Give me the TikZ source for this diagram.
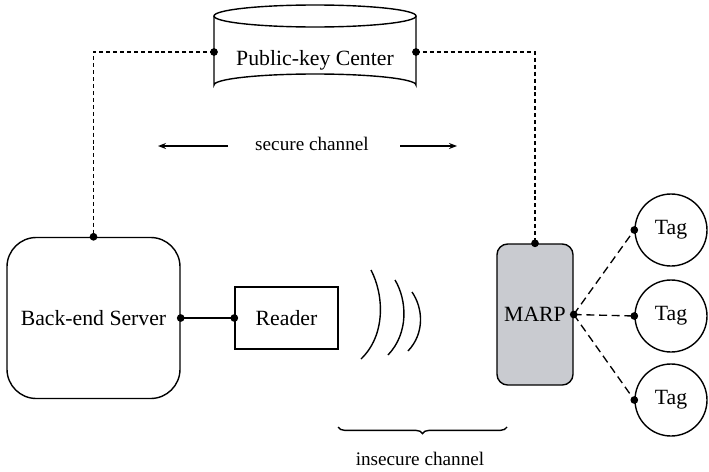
\documentclass[tikz,border=0pt]{standalone}
\usepackage{fontspec}
\setmainfont{Liberation Serif}
\usetikzlibrary{decorations.pathreplacing,arrows.meta}
\definecolor{marpfill}{RGB}{201,203,208}
\tikzset{
  lbl/.style={font=\fontsize{16.3}{19}\selectfont},
  chl/.style={font=\fontsize{14.4}{17}\selectfont},
  boxline/.style={draw=black, line width=1.05pt},
  dot/.style={circle, fill=black, inner sep=0pt, minimum size=5.8pt},
  shortdash/.style={line width=1pt, dash pattern=on 3pt off 2.2pt},
  longdash/.style={line width=1pt, dash pattern=on 6pt off 3.5pt},
  tagnode/.style={boxline, circle, minimum size=54pt, inner sep=0pt, lbl},
}
\begin{document}
\begin{tikzpicture}[x=0.75pt,y=-0.75pt]
\useasboundingbox (0,0) rectangle (709,471);

% cylinder (Public-key Center)
\draw[line width=1.05pt] (214,16) -- (214,85) arc[start angle=180, end angle=360, x radius=101, y radius=11] -- (416,16);
\draw[line width=1.05pt] (315,16) ellipse[x radius=101, y radius=11];
\node[lbl] (pkc) at (315,60) {Public-key Center};
\coordinate (pkcL) at (214,52);
\coordinate (pkcR) at (416,52);

% nodes
\node[boxline, rounded corners=22pt, minimum width=129.75pt, minimum height=120.75pt, inner sep=0pt, lbl] (server) at (93.5,318) {Back-end Server};
\node[boxline, minimum width=77.25pt, minimum height=46.5pt, inner sep=0pt, lbl] (reader) at (286.5,318) {Reader};
\node[boxline, fill=marpfill, rounded corners=8pt, minimum width=57pt, minimum height=105.75pt, inner sep=0pt, lbl] (marp) at (535,314.5) {MARP};
\node[tagnode] (tag1) at (671,230) {Tag};
\node[tagnode] (tag2) at (671,316) {Tag};
\node[tagnode] (tag3) at (671,400) {Tag};

% dashed connectors to public-key center
\draw[shortdash] (pkcL) -| (server.north);
\draw[shortdash] (pkcR) -| (marp.north);

% server - reader
\draw[line width=1.05pt] (server.east) -- (reader.west);

% MARP - tags
\draw[longdash] (marp.east) -- (tag1.west);
\draw[longdash] (marp.east) -- (tag2.west);
\draw[longdash] (marp.east) -- (tag3.west);

% dots
\foreach \p in {pkcL,pkcR,server.north,server.east,reader.west,marp.north,marp.east,tag1.west,tag2.west,tag3.west}
  \node[dot] at (\p) {};

% radio waves
\draw[line width=1.05pt] (371,270) .. controls (384,295) and (386,335) .. (361,359);
\draw[line width=1.05pt] (395,280) .. controls (407,300) and (409,333) .. (388,355);
\draw[line width=1.05pt] (412,292) .. controls (423,308) and (425,333) .. (408,351);

% secure channel
\node[chl] (sec) at (312,144) {secure channel};
\coordinate (secLa) at (228,146);
\coordinate (secLb) at (158,146);
\coordinate (secRa) at (400,146);
\coordinate (secRb) at (457,146);
\draw[line width=1.05pt, -{Stealth[length=6pt,width=4.5pt]}] (secLa) -- (secLb);
\draw[line width=1.05pt, -{Stealth[length=6pt,width=4.5pt]}] (secRa) -- (secRb);

% insecure channel brace
\coordinate (brL) at (338,427);
\coordinate (brR) at (507,427);
\draw[line width=1.05pt, decorate, decoration={brace, mirror, amplitude=5pt}] (brL) -- (brR);
\node[chl] (insec) at (420,459) {insecure channel};
\end{tikzpicture}
\end{document}
